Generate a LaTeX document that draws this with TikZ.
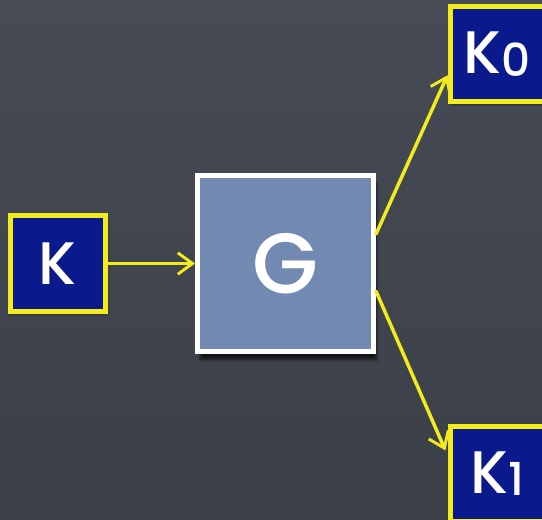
\documentclass[tikz,border=0pt]{standalone}
\usepackage{fontspec}
\setmainfont{Poppins Medium}
\usetikzlibrary{arrows.meta,shadows.blur}
\definecolor{board}{HTML}{3B3F48}
\definecolor{boardlight}{HTML}{474B55}
\definecolor{keyblue}{HTML}{0A1A8C}
\definecolor{chalkyellow}{HTML}{F2EC1C}
\definecolor{gblue}{HTML}{7289B2}
\tikzset{
  keybox/.style={draw=chalkyellow, line width=3.75pt, fill=keyblue,
    minimum size=71.25pt, inner sep=0pt, text=white, font=\fontsize{45}{45}\selectfont,
    blur shadow={shadow blur steps=6, shadow xshift=1pt, shadow yshift=-2pt, shadow opacity=50}},
  genbox/.style={draw=white, line width=3.75pt, fill=gblue,
    minimum size=132pt, inner sep=0pt, text=white, font=\fontsize{64}{64}\selectfont,
    blur shadow={shadow blur steps=8, shadow xshift=2pt, shadow yshift=-6pt, shadow opacity=70}},
  chalkarrow/.style={draw=chalkyellow, line width=2.6pt, line cap=round,
    -{Straight Barb[length=11pt, width=16pt, line width=2.2pt]}}
}
\begin{document}
\begin{tikzpicture}[x=0.75pt, y=-0.75pt]
  % chalkboard background
  \shade[top color=boardlight, bottom color=board] (0,0) rectangle (542,520);
  \useasboundingbox (0,0) rectangle (542,520);

  \node[keybox] (K) at (57.5,263.5) {K};
  \node[genbox] (G) at (285.5,263.5) {G};
  \node[keybox] (K0) at (497.5,54) {K\raisebox{-2pt}{\fontsize{34}{34}\selectfont 0}};
  \node[keybox] (K1) at (497.5,473.5) {K\raisebox{-2pt}{\fontsize{34}{34}\selectfont 1}};

  \draw[chalkarrow] (K.east) -- (G.west);
  \draw[chalkarrow] (G.18) -- (K0.203);
  \draw[chalkarrow, shorten >=4pt] (G.-17) -- (K1.160);
\end{tikzpicture}
\end{document}
